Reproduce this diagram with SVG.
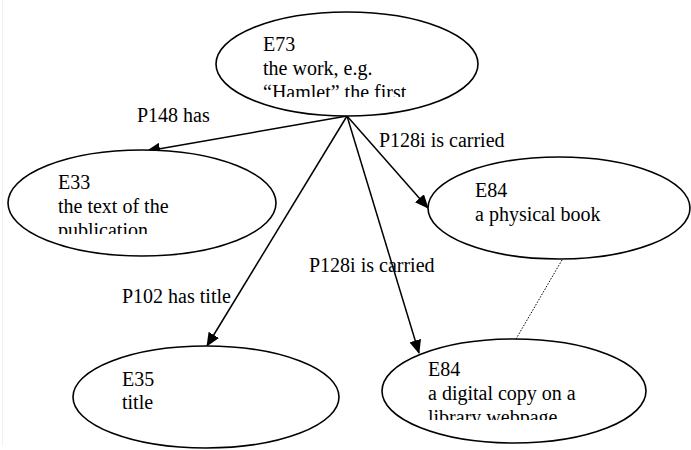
<svg xmlns="http://www.w3.org/2000/svg" width="691" height="450" viewBox="0 0 691 450">
  <style>
    .node ellipse { fill: #ffffff; stroke: #000000; stroke-width: 1.6; }
    .node text, .label { font-family: "Liberation Serif", "Times New Roman", serif; font-size: 20px; fill: #000000; }
    .edge { stroke: #000000; stroke-width: 1.5; fill: none; marker-end: url(#arrow); }
    .dotted { stroke: #000000; stroke-width: 1; stroke-dasharray: 1.5 1.5; fill: none; }
  </style>
  <defs>
    <marker id="arrow" markerUnits="userSpaceOnUse" markerWidth="14" markerHeight="12" refX="13" refY="6" orient="auto">
      <path d="M0,0 L14,6 L0,12 Z" fill="#000000"/>
    </marker>
    <clipPath id="clip-e73"><rect x="215" y="20" width="263" height="77"/></clipPath>
    <clipPath id="clip-e33"><rect x="8" y="160" width="268" height="74"/></clipPath>
    <clipPath id="clip-e84b"><rect x="382" y="350" width="265" height="70"/></clipPath>
  </defs>

  <rect x="0" y="0" width="691" height="450" fill="#ffffff"/>
  <line x1="2.5" y1="0" x2="2.5" y2="446" stroke="#f0f0f0" stroke-width="1"/>

  <!-- connectors -->
  <g id="connectors">
    <line class="edge" x1="347" y1="116" x2="147" y2="151"/>
    <line class="edge" x1="347" y1="116" x2="428" y2="208"/>
    <line class="edge" x1="347" y1="116" x2="207" y2="346"/>
    <line class="edge" x1="347" y1="116" x2="419" y2="353"/>
    <line class="dotted" x1="562" y1="260" x2="516" y2="339"/>
    <text class="label" x="137" y="122">P148 has</text>
    <text class="label" x="379" y="147">P128i is carried</text>
    <text class="label" x="309" y="272">P128i is carried</text>
    <text class="label" x="122" y="303">P102 has title</text>
  </g>

  <g id="e73" class="node">
    <ellipse cx="347" cy="64" rx="131" ry="52"/>
    <g clip-path="url(#clip-e73)">
      <text x="263" y="51">E73</text>
      <text x="263" y="75">the work, e.g.</text>
      <text x="263" y="99">“Hamlet” the first</text>
    </g>
  </g>

  <g id="e33" class="node">
    <ellipse cx="142" cy="203" rx="134" ry="53"/>
    <g clip-path="url(#clip-e33)">
      <text x="58" y="189">E33</text>
      <text x="58" y="213">the text of the</text>
      <text x="58" y="237">publication</text>
    </g>
  </g>

  <g id="e84-book" class="node">
    <ellipse cx="559" cy="208" rx="131" ry="51"/>
    <text x="475" y="197">E84</text>
    <text x="475" y="221">a physical book</text>
  </g>

  <g id="e35" class="node">
    <ellipse cx="206" cy="397" rx="133" ry="51"/>
    <text x="122" y="386">E35</text>
    <text x="122" y="409">title</text>
  </g>

  <g id="e84-digital" class="node">
    <ellipse cx="514" cy="391" rx="132" ry="52"/>
    <g clip-path="url(#clip-e84b)">
      <text x="428" y="376">E84</text>
      <text x="428" y="400">a digital copy on a</text>
      <text x="428" y="424">library webpage</text>
    </g>
  </g>
</svg>
